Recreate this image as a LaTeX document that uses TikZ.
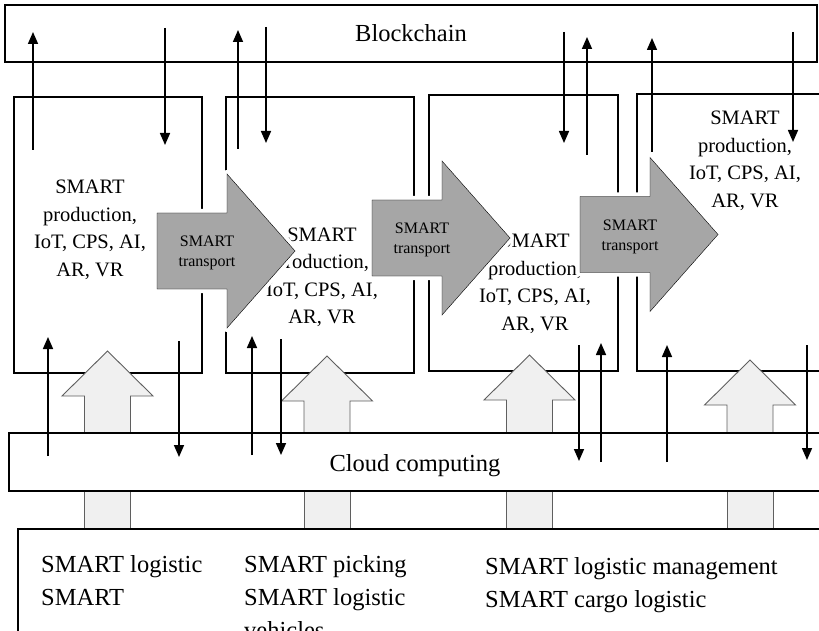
\documentclass[tikz,border=0pt]{standalone}
\usepackage{fontspec}
\setmainfont{Liberation Serif}
\usetikzlibrary{arrows.meta}

\definecolor{trgray}{RGB}{166,166,166}
\definecolor{upfill}{RGB}{240,240,240}
\definecolor{upline}{RGB}{95,95,95}

\begin{document}
\begin{tikzpicture}[x=1pt,y=-1pt,
    box/.style={draw,line width=1.5pt,inner sep=0pt},
    flow/.style={line width=1.6pt,-{Triangle[width=10pt,length=12pt]}},
    transport/.style={fill=trgray,preaction={draw=white,line width=8pt,line join=round}},
    rise/.style={fill=upfill,draw=upline,line width=0.9pt},
    boxtext/.style={align=center,inner sep=0pt,font=\fontsize{20.5}{27.5}\selectfont},
    trtext/.style={align=center,inner sep=0pt,font=\fontsize{16}{20}\selectfont},
    bigtext/.style={inner sep=0pt,font=\fontsize{24.5}{33}\selectfont}]

    \useasboundingbox (0,0) rectangle (819,631);
    \clip (0,0) rectangle (819,631);

    % layers
    \node[box, minimum width=812, minimum height=57, font=\fontsize{24.5}{30}\selectfont] (chain) at (411,33.5) {Blockchain};
    \node[box, minimum width=188, minimum height=276] (f1) at (108,235) {};
    \node[box, minimum width=188, minimum height=276] (f2) at (320,235) {};
    \node[box, minimum width=189, minimum height=276] (f3) at (523.5,233) {};
    \node[box, minimum width=363, minimum height=277] (f4) at (818.5,232.5) {};

    \node[boxtext] (t1) at (90,230) {SMART\\production,\\IoT, CPS, AI,\\AR, VR};
    \node[boxtext] (t2) at (322,277.5) {SMART\\production,\\IoT, CPS, AI,\\AR, VR};
    \node[boxtext] (t3) at (535,284) {SMART\\production,\\IoT, CPS, AI,\\AR, VR};
    \node[boxtext] (t4) at (745,161) {SMART\\production,\\IoT, CPS, AI,\\AR, VR};

    % transport arrows
    \foreach \L/\C [count=\i] in {157/251, 372/238, 580/234.5} {
        \draw[transport] (\L,\C-38) -- ++(70,0) -- ++(0,-39) -- (\L+138,\C)
            -- (\L+70,\C+77) -- ++(0,-39) -- (\L,\C+38) -- cycle;
        \node[trtext] (tr\i) at (\L+50,\C+2) {SMART\\transport};
    }

    % big up arrows and links
    \foreach \M/\T [count=\i] in {107.5/351, 327/356, 529.5/355, 750/360} {
        \draw[rise] (\M-23,433) -- (\M-23,\T+45) -- (\M-45.5,\T+45) -- (\M,\T)
            -- (\M+45.5,\T+45) -- (\M+23,\T+45) -- (\M+23,433) -- cycle;
        \draw[rise] (\M-23,491) rectangle (\M+23,529);
    }

    \node[box, minimum width=991, minimum height=58] (cloud) at (504.5,462) {};
    \node[font=\fontsize{24.5}{30}\selectfont, inner sep=0pt] (cloudtxt) at (415,466) {Cloud computing};
    \node[box, minimum width=982, minimum height=271] (logi) at (509,664.5) {};

    \node[bigtext, anchor=north west, align=left] (l1) at (41,555) {SMART logistic\\SMART};
    \node[bigtext, anchor=north west, align=left] (l2) at (244,555) {SMART picking\\SMART logistic\\vehicles};
    \node[bigtext, anchor=north west, align=left] (l3) at (485,557) {SMART logistic management\\SMART cargo logistic};

    % data flows
    \foreach \x/\a/\b [count=\i] in {33/150/32, 165/28/145, 238/149/30, 266/27/143,
            564/32/143, 587/155/37, 652/152/38, 793/32/142,
            48/456/337, 179/341/457, 252/455/336, 281/339/455,
            579/345/461, 601/462/343, 667/462/345, 807/345/460} {
        \coordinate (p\i) at (\x,\a);
        \coordinate (q\i) at (\x,\b);
        \draw[flow] (p\i) -- (q\i);
    }

\end{tikzpicture}
\end{document}
